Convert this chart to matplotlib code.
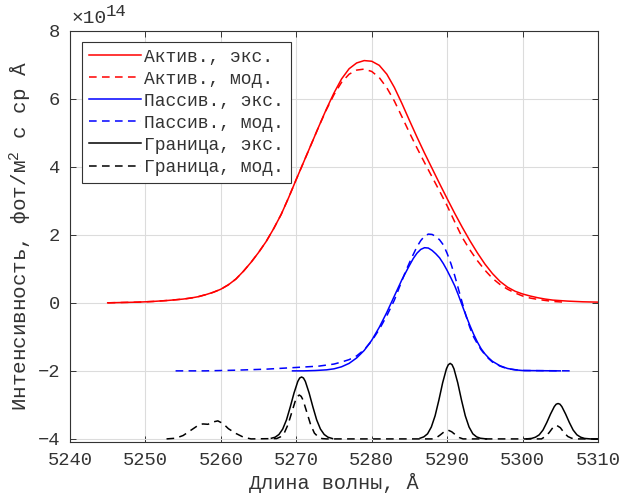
import numpy as np
import matplotlib
matplotlib.use('Agg')
import matplotlib.pyplot as plt

plt.rcParams['font.family'] = ['Liberation Mono', 'DejaVu Sans']
plt.rcParams['mathtext.fontset'] = 'custom'
plt.rcParams['mathtext.rm'] = 'Liberation Mono'
plt.rcParams['mathtext.it'] = 'Liberation Mono'

# values in units of 1e14
# active, experiment
act_exp_x = [5245, 5247, 5249, 5251, 5253, 5255, 5256, 5257, 5258, 5259, 5260, 5261, 5262,
             5263, 5264, 5265, 5266, 5267, 5268, 5269, 5270, 5271, 5272, 5273, 5274, 5275,
             5276, 5277, 5278, 5279, 5280, 5281, 5282, 5283, 5284, 5285, 5286, 5287, 5288,
             5289, 5290, 5291, 5292, 5293, 5294, 5295, 5296, 5297, 5298, 5299, 5300, 5301,
             5302, 5303, 5304, 5306, 5308, 5310]
act_exp_y = [0.00, 0.01, 0.02, 0.04, 0.07, 0.11, 0.14, 0.18, 0.24, 0.31, 0.4, 0.53, 0.7,
             0.93, 1.19, 1.48, 1.8, 2.18, 2.6, 3.1, 3.63, 4.15, 4.67, 5.19, 5.7, 6.17,
             6.58, 6.88, 7.05, 7.12, 7.1, 6.98, 6.72, 6.33, 5.86, 5.36, 4.87, 4.4, 3.95,
             3.5, 3.06, 2.63, 2.22, 1.83, 1.47, 1.14, 0.86, 0.63, 0.46, 0.34, 0.26, 0.2,
             0.15, 0.11, 0.08, 0.05, 0.03, 0.02]

# active, model
act_mod_x = [5245, 5247, 5249, 5251, 5253, 5255, 5256, 5257, 5258, 5259, 5260, 5261, 5262,
             5263, 5264, 5265, 5266, 5267, 5268, 5269, 5270, 5271, 5272, 5273, 5274, 5275,
             5276, 5277, 5278, 5279, 5280, 5281, 5282, 5283, 5284, 5285, 5286, 5287, 5288,
             5289, 5290, 5291, 5292, 5293, 5294, 5295, 5296, 5297, 5298, 5299, 5300, 5301,
             5302, 5303, 5304, 5305.5]
act_mod_y = [0.00, 0.01, 0.02, 0.04, 0.07, 0.11, 0.14, 0.18, 0.24, 0.31, 0.4, 0.53, 0.7,
             0.93, 1.19, 1.48, 1.8, 2.18, 2.6, 3.1, 3.63, 4.15, 4.67, 5.19, 5.68, 6.12,
             6.48, 6.72, 6.84, 6.87, 6.8, 6.62, 6.32, 5.93, 5.47, 5.0, 4.55, 4.12, 3.7,
             3.28, 2.85, 2.38, 1.92, 1.56, 1.24, 0.96, 0.72, 0.54, 0.4, 0.29, 0.2, 0.14,
             0.1, 0.07, 0.04, 0.02]

# passive, experiment
pas_exp_x = [5269.5, 5271, 5272.5, 5274, 5275, 5276, 5277, 5278, 5279, 5280, 5281, 5282,
             5283, 5284, 5285, 5285.5, 5286, 5286.5, 5287, 5287.5, 5288, 5288.5, 5289,
             5289.5, 5290, 5290.5, 5291, 5291.5, 5292, 5292.5, 5293, 5293.5, 5294, 5294.5,
             5295, 5295.5, 5296, 5297, 5298, 5299, 5300, 5305]
pas_exp_y = [-2.0, -2.0, -1.99, -1.97, -1.94, -1.88, -1.78, -1.62, -1.4, -1.1, -0.72, -0.28,
             0.2, 0.68, 1.1, 1.3, 1.46, 1.57, 1.62, 1.61, 1.54, 1.44, 1.32,
             1.15, 0.95, 0.73, 0.5, 0.22, -0.08, -0.38, -0.66, -0.92, -1.15, -1.35,
             -1.5, -1.62, -1.72, -1.85, -1.93, -1.97, -1.99, -2.0]

# passive, model
pas_mod_x = [5254, 5258, 5262, 5266, 5270, 5273, 5275, 5276, 5277, 5278, 5279, 5280, 5281,
             5282, 5283, 5284, 5284.5, 5285, 5285.5, 5286, 5286.5, 5287, 5287.5, 5288,
             5288.5, 5289, 5289.5, 5290, 5290.5, 5291, 5291.5, 5292, 5292.5, 5293, 5293.5,
             5294, 5294.5, 5295, 5295.5, 5296, 5297, 5298, 5300, 5306.5]
pas_mod_y = [-2.0, -2.0, -1.98, -1.95, -1.9, -1.86, -1.8, -1.74, -1.67, -1.56, -1.38, -1.12,
             -0.78, -0.38, 0.08, 0.65, 0.93, 1.18, 1.42, 1.65, 1.83, 1.96, 2.02, 2.01,
             1.95, 1.85, 1.7, 1.45, 1.15, 0.8, 0.4, 0.0, -0.38, -0.72, -1.0,
             -1.2, -1.38, -1.52, -1.64, -1.74, -1.86, -1.94, -1.99, -2.0]

# boundary, experiment (three measured windows)
bnd_exp_x = [5266.7, 5267.2, 5267.7, 5268.2, 5268.7, 5269.2, 5269.7, 5270.2, 5270.45, 5270.7,
             5270.95, 5271.2, 5271.7, 5272.2, 5272.7, 5273.2, 5273.7, 5274.2, 5274.8, np.nan,
             5286.4, 5286.9, 5287.4, 5287.9, 5288.4, 5288.9, 5289.4, 5289.9, 5290.15, 5290.4,
             5290.65, 5290.9, 5291.4, 5291.9, 5292.4, 5292.9, 5293.4, 5293.9, 5294.4, 5295.2,
             np.nan,
             5300.5, 5301.2, 5301.7, 5302.2, 5302.7, 5303.2, 5303.7, 5304.2, 5304.45, 5304.7,
             5304.95, 5305.2, 5305.7, 5306.2, 5306.7, 5307.2, 5307.7, 5308.2, 5309, 5310]
bnd_exp_y = [-3.98, -3.95, -3.87, -3.71, -3.44, -3.06, -2.65, -2.31, -2.21, -2.18,
             -2.21, -2.31, -2.65, -3.06, -3.44, -3.71, -3.87, -3.95, -3.99, np.nan,
             -3.98, -3.94, -3.85, -3.65, -3.32, -2.86, -2.35, -1.94, -1.82, -1.78,
             -1.82, -1.94, -2.35, -2.86, -3.32, -3.65, -3.85, -3.94, -3.98, -4.0,
             np.nan,
             -4.0, -3.985, -3.95, -3.88, -3.74, -3.52, -3.27, -3.05, -2.98, -2.96,
             -2.98, -3.05, -3.27, -3.52, -3.74, -3.88, -3.95, -3.985, -4.0, -4.0]

# boundary, model
bnd_mod_x = [5252.8, 5254, 5255, 5256, 5257, 5257.6, 5258.3, 5259, 5259.6, 5260.3, 5261,
             5262, 5263, 5264, 5267.4, 5267.9, 5268.4, 5268.9, 5269.4, 5269.9, 5270.15,
             5270.4, 5270.65, 5270.9, 5271.4, 5271.9, 5272.4, 5272.9, 5273.4, 5274,
             5288.1, 5288.6, 5289.1, 5289.6, 5290.1, 5290.6, 5291.1, 5291.6, 5292.1,
             5302.5, 5303, 5303.5, 5304, 5304.5, 5305, 5305.5, 5306, 5306.5, 5307, 5310]
bnd_mod_y = [-4.0, -3.98, -3.9, -3.75, -3.6, -3.56, -3.57, -3.5, -3.47, -3.55, -3.7,
             -3.84, -3.95, -4.0, -3.99, -3.94, -3.83, -3.58, -3.22, -2.86, -2.75,
             -2.71, -2.75, -2.86, -3.22, -3.58, -3.83, -3.94, -3.99, -4.0,
             -4.0, -3.96, -3.88, -3.79, -3.74, -3.79, -3.88, -3.96, -4.0,
             -4.0, -3.93, -3.82, -3.67, -3.6, -3.67, -3.82, -3.93, -3.98, -4.0, -4.0]

labels = ['Актив., экс.', 'Актив., мод.', 'Пассив., экс.', 'Пассив., мод.',
          'Граница, экс.', 'Граница, мод.']

dash = (0, (5, 3.5))
lw = 1.1
txt = '#333333'

fig = plt.figure(figsize=(6.22, 4.99), dpi=100)
ax = fig.add_axes([0.1125, 0.1136, 0.849, 0.825])

ax.plot(act_exp_x, act_exp_y, color='#ff0000', lw=lw, label=labels[0])
ax.plot(act_mod_x, act_mod_y, color='#ff0000', lw=lw, ls=dash, label=labels[1])
ax.plot(pas_exp_x, pas_exp_y, color='#0000ff', lw=lw, label=labels[2])
ax.plot(pas_mod_x, pas_mod_y, color='#0000ff', lw=lw, ls=dash, label=labels[3])
ax.plot(bnd_exp_x, bnd_exp_y, color='black', lw=lw, label=labels[4])
ax.plot(bnd_mod_x, bnd_mod_y, color='black', lw=lw, ls=dash, label=labels[5])

ax.set_xlim(5240, 5310)
ax.set_ylim(-4.1, 8)
ax.set_xticks(np.arange(5240, 5311, 10))
ax.set_yticks(np.arange(-4, 9, 2))
ax.grid(True, color='#dcdcdc', lw=0.8)
ax.set_axisbelow(True)
ax.tick_params(direction='in', top=True, right=True, length=4, width=0.7,
               colors=txt, labelsize=13.5, pad=7)
for s in ax.spines.values():
    s.set_color(txt)
    s.set_linewidth(0.8)

ax.set_xlabel('Длина волны, Å', fontsize=14.5, color=txt, labelpad=3)
ax.set_ylabel('Интенсивность, фот/м$^2$ с ср Å', fontsize=15, color=txt, labelpad=3)
ax.text(0.003, 1.008, '×10', transform=ax.transAxes, fontsize=14,
        color=txt, ha='left', va='bottom')
ax.text(0.068, 1.028, '14', transform=ax.transAxes, fontsize=12.5,
        color=txt, ha='left', va='bottom')

leg = ax.legend(loc='upper left', bbox_to_anchor=(0.006, 0.995), fontsize=13,
                fancybox=False, framealpha=1, edgecolor=txt, handlelength=2.9,
                handletextpad=0.15, labelspacing=0.28, borderpad=0.38)
leg.get_frame().set_linewidth(0.8)
for t in leg.get_texts():
    t.set_color(txt)

fig.savefig('out.png', dpi=100)
